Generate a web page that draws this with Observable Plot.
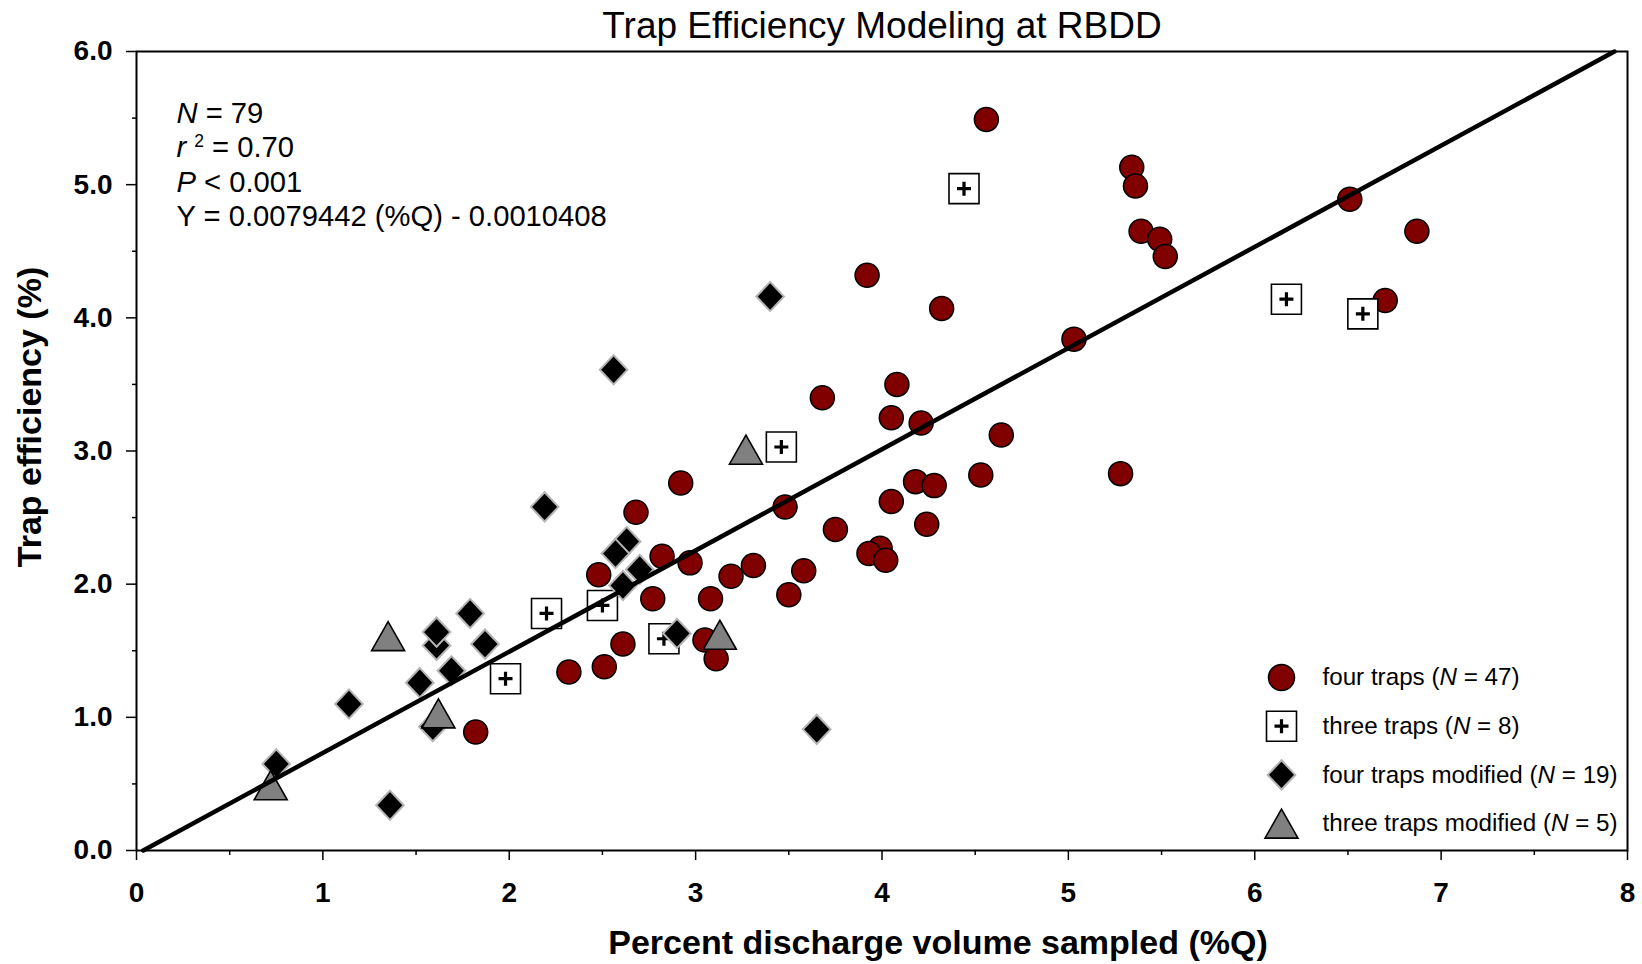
<!DOCTYPE html>
<html>
<head>
<meta charset="utf-8">
<script src="https://cdn.jsdelivr.net/npm/d3@7"></script>
<script src="https://cdn.jsdelivr.net/npm/@observablehq/plot@0.6"></script>
<style>
  html, body { margin: 0; padding: 0; background: #ffffff; }
  #chart svg { display: block; }
  g[aria-label="x-axis tick label"], g[aria-label="y-axis tick label"] {
    font-size: 28px; font-weight: bold; font-family: "Liberation Sans", Arial, sans-serif;
  }
</style>
</head>
<body>
<div id="chart"></div>
<script>
// ---------- data ----------
const chartTitle = "Trap Efficiency Modeling at RBDD";
const xLabel = "Percent discharge volume sampled (%Q)";
const yLabel = "Trap efficiency (%)";

// four traps (N = 47): %Q and trap efficiency (%)
const fourTrapsQ   = [4.56, 5.34, 5.36, 5.39, 5.49, 5.52, 6.51, 6.87, 6.70, 3.92, 4.32, 5.03, 3.68, 4.08, 4.05,
                      4.21, 4.64, 4.53, 5.28, 4.18, 4.28, 2.92, 2.68, 3.48, 4.05, 3.75, 4.24, 3.99, 3.93, 4.02,
                      2.82, 2.97, 2.48, 3.31, 3.19, 3.58, 2.77, 3.08, 3.50, 2.61, 2.51, 2.32, 3.05, 3.11, 1.82];
const fourTrapsEff = [5.49, 5.13, 4.99, 4.65, 4.59, 4.46, 4.89, 4.65, 4.13, 4.32, 4.07, 3.84, 3.40, 3.50, 3.25,
                      3.21, 3.12, 2.82, 2.83, 2.77, 2.74, 2.76, 2.54, 2.58, 2.62, 2.41, 2.45, 2.27, 2.23, 2.18,
                      2.21, 2.16, 2.07, 2.14, 2.06, 2.10, 1.89, 1.89, 1.92, 1.55, 1.38, 1.34, 1.58, 1.44, 0.89];

// three traps (N = 8)
const threeTrapsQ   = [2.20, 1.98, 2.50, 2.83, 3.46, 4.44, 6.17, 6.58];
const threeTrapsEff = [1.78, 1.29, 1.84, 1.59, 3.03, 4.97, 4.14, 4.03];

// four traps modified (N = 19)
const fourModQ   = [2.19, 2.63, 2.57, 2.70, 2.61, 1.79, 1.61, 1.61, 1.87, 1.69, 1.52, 1.14, 1.59, 0.75, 1.36, 3.40, 2.56, 2.90, 3.65];
const fourModEff = [2.58, 2.32, 2.23, 2.11, 1.99, 1.78, 1.54, 1.64, 1.55, 1.35, 1.26, 1.10, 0.93, 0.65, 0.34, 4.16, 3.61, 1.63, 0.91];

// three traps modified (N = 5)
const threeModQ   = [1.35, 1.62, 0.72, 3.27, 3.13];
const threeModEff = [1.61, 1.03, 0.49, 3.01, 1.62];

// regression line as drawn (end points)
const fitQ   = [0.036, 7.93];
const fitEff = [0.0, 6.0];

const statsLines = ["*N* = 79", "*r*^2^ = 0.70", "*P* < 0.001", "Y = 0.0079442 (%Q) - 0.0010408"];
const legendLabels = ["four traps (*N* = 47)", "three traps (*N* = 8)", "four traps modified (*N* = 19)", "three traps modified (*N* = 5)"];

const xMajorTicks = [0, 1, 2, 3, 4, 5, 6, 7, 8];
const xMinorTicks = [0.5, 1.5, 2.5, 3.5, 4.5, 5.5, 6.5, 7.5];
const yMajorTicks = [0, 1, 2, 3, 4, 5, 6];
const yMinorTicks = [0.5, 1.5, 2.5, 3.5, 4.5, 5.5];

// ---------- build tables ----------
const toRows = (qs, es) => qs.map((q, i) => ({q, eff: es[i]}));
const fourTraps = toRows(fourTrapsQ, fourTrapsEff);
const threeTraps = toRows(threeTrapsQ, threeTrapsEff);
const fourMod = toRows(fourModQ, fourModEff);
const threeMod = toRows(threeModQ, threeModEff);
const fit = toRows(fitQ, fitEff);

// ---------- custom symbols (centred on their bounding box) ----------
const rOf = (size) => Math.sqrt(size / Math.PI);
const squareSym = {draw(c, s) { const r = rOf(s); c.rect(-r, -r, 2 * r, 2 * r); }};
const plusSym = {draw(c, s) { const r = rOf(s); c.moveTo(-r, 0); c.lineTo(r, 0); c.moveTo(0, -r); c.lineTo(0, r); }};
const diamondSym = {draw(c, s) { const r = rOf(s); const h = r * 1.06; c.moveTo(0, -h); c.lineTo(r, 0); c.lineTo(0, h); c.lineTo(-r, 0); c.closePath(); }};
const triangleSym = {draw(c, s) { const r = rOf(s); const h = r * 0.88; c.moveTo(0, -h); c.lineTo(r, h); c.lineTo(-r, h); c.closePath(); }};

const FONT = "Liberation Sans, Arial, sans-serif";
const MAROON = "#800000";
const GREYFILL = "#808080";
const DIAMOND_EDGE = "#b4b4b4";

const styles = {
  circle: {symbol: "circle", r: 12, fill: MAROON, stroke: "black", strokeWidth: 1.5},
  square: {symbol: squareSym, r: 15, fill: "white", stroke: "black", strokeWidth: 1.6},
  plus: {symbol: plusSym, r: 7, fill: "none", stroke: "black", strokeWidth: 3.2},
  diamond: {symbol: diamondSym, r: 13.8, fill: "black", stroke: DIAMOND_EDGE, strokeWidth: 2},
  triangle: {symbol: triangleSym, r: 16.5, fill: GREYFILL, stroke: "black", strokeWidth: 1.6}
};

// legend marks (anchored to the bottom-right corner of the frame)
const legendMarks = [];
const legendSymbols = [["circle"], ["square", "plus"], ["diamond"], ["triangle"]];
legendLabels.forEach((label, i) => {
  const dy = -173 + i * 48.7;
  legendSymbols[i].forEach(k => {
    const st = k === "circle" ? {...styles[k], r: 13} : styles[k];
    legendMarks.push(Plot.dot([label], {frameAnchor: "bottom-right", dx: -346, dy, ...st}));
  });
  legendMarks.push(Plot.text([label], {frameAnchor: "bottom-right", dx: -305, dy, textAnchor: "start", lineAnchor: "middle",
    fontSize: 24.2, fontFamily: FONT, fill: "black", ariaLabel: "legend-text"}));
});

const statsMarks = statsLines.map((line, i) =>
  Plot.text([line], {frameAnchor: "top-left", dx: 40, dy: 62 + i * 34.5, textAnchor: "start", lineAnchor: "middle",
    fontSize: 29.2, fontFamily: FONT, fill: "black", ariaLabel: "stats"}));

const plot = Plot.plot({
  width: 1642,
  height: 964,
  marginLeft: 136,
  marginRight: 15,
  marginTop: 51,
  marginBottom: 114,
  style: {fontFamily: FONT, background: "white"},
  x: {domain: [0, 8], axis: null},
  y: {domain: [0, 6], axis: null},
  marks: [
    Plot.axisX(xMinorTicks, {tickSize: 5, tickFormat: () => "", label: null, strokeWidth: 1.5}),
    Plot.axisX(xMajorTicks, {tickSize: 10, tickPadding: 22, tickFormat: d => String(d), label: null, strokeWidth: 1.5}),
    Plot.axisY(yMinorTicks, {tickSize: 4, tickFormat: () => "", label: null, strokeWidth: 1.5}),
    Plot.axisY(yMajorTicks, {tickSize: 10, tickPadding: 14, tickFormat: d3.format(".1f"), label: null, strokeWidth: 1.5}),
    Plot.frame({stroke: "black", strokeWidth: 2}),

    Plot.dot(fourTraps, {x: "q", y: "eff", ...styles.circle}),
    Plot.dot(threeTraps, {x: "q", y: "eff", ...styles.square}),
    Plot.dot(threeTraps, {x: "q", y: "eff", ...styles.plus}),
    Plot.dot(fourMod, {x: "q", y: "eff", ...styles.diamond}),
    Plot.dot(threeMod, {x: "q", y: "eff", ...styles.triangle}),
    Plot.line(fit, {x: "q", y: "eff", stroke: "black", strokeWidth: 4.5}),

    ...statsMarks,
    ...legendMarks,

    Plot.text([chartTitle], {frameAnchor: "top", dy: -25, lineAnchor: "middle", fontSize: 37, fontFamily: FONT, fill: "black"}),
    Plot.text([xLabel], {frameAnchor: "bottom", dx: 56, dy: 93, lineAnchor: "middle", fontSize: 34, fontWeight: "bold", fontFamily: FONT, fill: "black"}),
    Plot.text([yLabel], {frameAnchor: "left", dx: -106, dy: -34, rotate: -90, textAnchor: "middle", lineAnchor: "middle", fontSize: 34, fontWeight: "bold", fontFamily: FONT, fill: "black"})
  ]
});

// rich text: *italic* and ^superscript^
const NS = "http://www.w3.org/2000/svg";
plot.querySelectorAll("text").forEach(t => {
  const s = t.textContent;
  if (!/[*^]/.test(s)) return;
  t.textContent = "";
  s.split(/(\*[^*]+\*|\^[^^]+\^)/).forEach(p => {
    if (!p) return;
    const ts = document.createElementNS(NS, "tspan");
    if (p[0] === "*") { ts.setAttribute("font-style", "italic"); ts.textContent = p.slice(1, -1); }
    else if (p[0] === "^") {
      ts.setAttribute("font-size", "0.6em"); ts.setAttribute("baseline-shift", "super");
      ts.setAttribute("dx", "8"); ts.textContent = p.slice(1, -1);
    } else ts.textContent = p;
    t.appendChild(ts);
  });
});

document.getElementById("chart").appendChild(plot);
</script>
</body>
</html>
